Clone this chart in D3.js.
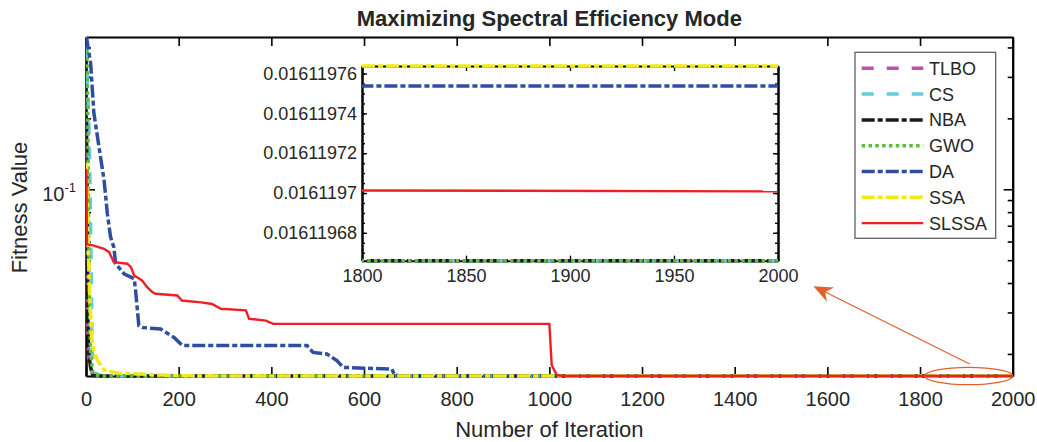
<!DOCTYPE html>
<html>
<head>
<meta charset="utf-8">
<script src="https://cdn.jsdelivr.net/npm/d3@7"></script>
<style>
    body { margin: 0; background: #fff; }
    text { font-family: "Liberation Sans", Arial, Helvetica, sans-serif; fill: #262626; }
    .axis path, .axis line { stroke: #000; }
</style>
</head>
<body>
<div id="chart"></div>
<script>
// ---- data (best fitness per iteration) ----
const seriesNames = ["TLBO", "CS", "NBA", "GWO", "DA", "SSA", "SLSSA"];

const iterTLBO = [1, 2, 3, 6, 15, 40, 60, 2000];
const fitTLBO  = [0.15, 0.06, 0.03, 0.0175, 0.0163, 0.01612, 0.016119666, 0.016119666];

const iterCS = [1, 4, 6, 8, 10, 12, 13, 15, 20, 30, 60, 2000];
const fitCS  = [0.40, 0.25, 0.20, 0.13, 0.07, 0.035, 0.022, 0.0178, 0.0166, 0.01614, 0.016119666, 0.016119666];

const iterNBA = [1, 2, 3, 4, 6, 10, 15, 30, 60, 2000];
const fitNBA  = [0.20, 0.12, 0.06, 0.03, 0.02, 0.0175, 0.01617, 0.01612, 0.016119666, 0.016119666];

const iterGWO = [1, 2, 3, 4, 5, 6, 8, 10, 15, 30, 60, 2000];
const fitGWO  = [0.443, 0.38, 0.28, 0.20, 0.12, 0.06, 0.03, 0.02, 0.0165, 0.01613, 0.016119666, 0.016119666];

const iterDA = [1, 10, 17, 28, 39, 46, 53, 60, 64, 82, 104, 107, 114, 122, 161, 190, 208, 477, 490, 520, 542, 555, 660, 666, 680, 2000];
const fitDA  = [0.443, 0.3427, 0.2106, 0.1514, 0.1092, 0.0790, 0.0627, 0.0568, 0.0483, 0.0438, 0.0417, 0.0372, 0.0264, 0.0259,
                0.0255, 0.0235, 0.0217, 0.0217, 0.0203, 0.0200, 0.0187, 0.01753, 0.01726, 0.01625, 0.0161197537, 0.0161197537];

const iterSSA = [1, 3, 5, 8, 12, 17, 24, 39, 67, 117, 200, 300, 2000];
const fitSSA  = [0.13, 0.08, 0.055, 0.035, 0.024, 0.0205, 0.0189, 0.0171, 0.0166, 0.01643, 0.01615, 0.0161197638, 0.0161197638];

const iterSLSSA = [1, 2, 15, 39, 50, 60, 89, 97, 104, 121, 132, 143, 150, 197, 207, 248, 272, 291, 345, 352, 388, 404,
                   1000, 1005, 1016, 1030, 1800, 2000];
const fitSLSSA  = [0.1217, 0.0583, 0.0578, 0.0559, 0.0541, 0.0490, 0.0483, 0.0467, 0.0431, 0.0410, 0.0384, 0.0366, 0.0360,
                   0.0354, 0.0337, 0.0331, 0.0326, 0.0311, 0.0306, 0.0282, 0.0277, 0.02683,
                   0.02683, 0.01796, 0.01627, 0.016119702, 0.0161197013, 0.0161197008];

// ticks
const xTicks = [0, 200, 400, 600, 800, 1000, 1200, 1400, 1600, 1800, 2000];
const yMajorTicks = [0.1];
const yMinorTicks = [0.02, 0.03, 0.04, 0.05, 0.06, 0.07, 0.08, 0.09, 0.2, 0.3, 0.4];
const insetXTicks = [1800, 1850, 1900, 1950, 2000];
const insetYTicks = [0.01611968, 0.0161197, 0.01611972, 0.01611974, 0.01611976];

// ---- styles ----
const colors = {TLBO: "#c04fa8", CS: "#62cddc", NBA: "#1a1a1a", GWO: "#5cbf3c", DA: "#2e4e9f", SSA: "#f2e81a", SLSSA: "#ee2024"};
const dashes = {TLBO: "12,13", CS: "12,13", NBA: "13,3,5,3", GWO: "3.5,3.3", DA: "13,3,5,3", SSA: "13,3,5,3", SLSSA: null};
const widths = {TLBO: 3.5, CS: 3.5, NBA: 3.5, GWO: 3.5, DA: 3.5, SSA: 3.5, SLSSA: 2.4};
const annotColor = "#e4602a";

const rawIters = [iterTLBO, iterCS, iterNBA, iterGWO, iterDA, iterSSA, iterSLSSA];
const rawFits = [fitTLBO, fitCS, fitNBA, fitGWO, fitDA, fitSSA, fitSLSSA];
const series = seriesNames.map((name, i) => ({
    name: name,
    points: rawIters[i].map((it, j) => ({it: it, v: rawFits[i][j]}))
}));

const width = 1037, height = 442;
const plot = {left: 86, right: 1012.7, top: 37, bottom: 376};
const inset = {left: 362, right: 778, top: 66, bottom: 260.7};

const svg = d3.select("#chart").append("svg")
    .attr("width", width)
    .attr("height", height);

const allValues = series.flatMap(s => s.points.map(p => p.v));

const x = d3.scaleLinear().domain([0, 2000]).range([plot.left, plot.right]);
const y = d3.scaleLog().domain(d3.extent(allValues)).range([plot.bottom, plot.top]);

// clip regions
const defs = svg.append("defs");
defs.append("clipPath").attr("id", "clipMain").append("rect")
    .attr("x", plot.left).attr("y", plot.top - 4)
    .attr("width", plot.right - plot.left).attr("height", plot.bottom - plot.top + 8);
defs.append("clipPath").attr("id", "clipInset").append("rect")
    .attr("x", inset.left).attr("y", inset.top - 4)
    .attr("width", inset.right - inset.left).attr("height", inset.bottom - inset.top + 8);

// ---- main axes ----
svg.append("g").attr("class", "axis")
    .attr("transform", `translate(0,${plot.bottom})`)
    .call(d3.axisBottom(x).tickValues(xTicks).tickFormat(d3.format("d"))
        .tickSizeInner(-9).tickSizeOuter(0).tickPadding(16))
    .call(g => g.selectAll("text").attr("font-size", 20).attr("font-family", null));
svg.append("g").attr("class", "axis")
    .attr("transform", `translate(0,${plot.top})`)
    .call(d3.axisTop(x).tickValues(xTicks).tickSizeInner(-9).tickSizeOuter(0).tickFormat(""));

function yAxes(axisFn, xpos, labels) {
    svg.append("g").attr("class", "axis")
        .attr("transform", `translate(${xpos},0)`)
        .call(axisFn(y).tickValues(yMinorTicks).tickSizeInner(-5).tickSizeOuter(0).tickFormat(""));
    const g = svg.append("g").attr("class", "axis")
        .attr("transform", `translate(${xpos},0)`)
        .call(axisFn(y).tickValues(yMajorTicks).tickSizeInner(-9).tickSizeOuter(0).tickPadding(10).tickFormat(""));
    if (labels) {
        g.selectAll(".tick text")
            .attr("font-family", null)
            .attr("dy", "0.55em")
            .attr("font-size", 20)
            .each(function() {
                const t = d3.select(this);
                t.append("tspan").text("10");
                t.append("tspan").attr("dy", -9).attr("font-size", 13).text("-1");
            });
    }
}
yAxes(d3.axisLeft, plot.left, true);
yAxes(d3.axisRight, plot.right, false);
svg.selectAll(".axis path.domain").attr("stroke-width", 2);
svg.selectAll(".axis line").attr("stroke-width", 1.6);

// ---- main lines ----
const line = d3.line().x(d => x(d.it)).y(d => y(d.v));
svg.append("g").attr("clip-path", "url(#clipMain)")
    .selectAll("path")
    .data(series)
    .enter().append("path")
    .attr("d", d => line(d.points))
    .attr("fill", "none")
    .style("stroke", d => colors[d.name])
    .style("stroke-width", d => widths[d.name])
    .style("stroke-dasharray", d => dashes[d.name]);

// ---- zoom annotation (ellipse + arrow) ----
svg.append("ellipse")
    .attr("cx", x(1905)).attr("cy", y.range()[0])
    .attr("rx", x(2000) - x(1905)).attr("ry", 8.7)
    .attr("fill", "none")
    .attr("stroke", annotColor)
    .attr("stroke-width", 1.3);

const tail = [x(1907), y(0.01813)], tip = [x(1570), y(0.0388)];
const ang = Math.atan2(tip[1] - tail[1], tip[0] - tail[0]);
svg.append("line")
    .attr("x1", tail[0]).attr("y1", tail[1])
    .attr("x2", tip[0] - 12 * Math.cos(ang))
    .attr("y2", tip[1] - 12 * Math.sin(ang))
    .attr("stroke", annotColor)
    .attr("stroke-width", 1.3);
svg.append("path")
    .attr("d", "M0,0 L-19,-8 L-13,0 L-19,8 Z")
    .attr("transform", `translate(${tip[0]},${tip[1]}) rotate(${ang * 180 / Math.PI})`)
    .attr("fill", annotColor);

// ---- inset: last 200 iterations ----
// keep only the stretch that reaches the window, long off-screen paths break the dashing
const byIter = d3.bisector(p => p.it).right;
const insetPts = series.map(s => ({
    name: s.name,
    points: s.points.slice(Math.max(0, byIter(s.points, 1800) - 1))
}));
const insetVals = insetPts.flatMap(s => s.points.filter(p => p.it >= 1800).map(p => p.v));
const xIn = d3.scaleLinear().domain([1800, 2000]).range([inset.left, inset.right]);
const yIn = d3.scaleLinear().domain(d3.extent(insetVals)).range([inset.bottom, inset.top]);

svg.append("rect")
    .attr("x", inset.left).attr("y", inset.top)
    .attr("width", inset.right - inset.left).attr("height", inset.bottom - inset.top)
    .attr("fill", "#fff");

const fmtIn = d => String(parseFloat(d.toFixed(8)));
svg.append("g").attr("class", "axis inset")
    .attr("transform", `translate(0,${inset.bottom})`)
    .call(d3.axisBottom(xIn).tickValues(insetXTicks).tickFormat(d3.format("d"))
        .tickSizeInner(-5).tickSizeOuter(0).tickPadding(9))
    .call(g => g.selectAll("text").attr("font-size", 18).attr("font-family", null));
svg.append("g").attr("class", "axis inset")
    .attr("transform", `translate(0,${inset.top})`)
    .call(d3.axisTop(xIn).tickValues(insetXTicks).tickSizeInner(-5).tickSizeOuter(0).tickFormat(""));
svg.append("g").attr("class", "axis inset")
    .attr("transform", `translate(${inset.left},0)`)
    .call(d3.axisLeft(yIn).tickValues(yIn.ticks(20)).tickSizeInner(-3).tickSizeOuter(0).tickFormat(""));
svg.append("g").attr("class", "axis inset")
    .attr("transform", `translate(${inset.left},0)`)
    .call(d3.axisLeft(yIn).tickValues(insetYTicks).tickSizeInner(-5).tickSizeOuter(0).tickPadding(5).tickFormat(fmtIn))
    .call(g => g.selectAll("text").attr("font-size", 18).attr("font-family", null));
svg.append("g").attr("class", "axis inset")
    .attr("transform", `translate(${inset.right},0)`)
    .call(d3.axisRight(yIn).tickValues(yIn.ticks(20)).tickSizeInner(-3).tickSizeOuter(0).tickFormat(""));
svg.append("g").attr("class", "axis inset")
    .attr("transform", `translate(${inset.right},0)`)
    .call(d3.axisRight(yIn).tickValues(insetYTicks).tickSizeInner(-5).tickSizeOuter(0).tickFormat(""));
svg.selectAll(".inset path.domain").attr("stroke-width", 2);
svg.selectAll(".inset line").attr("stroke-width", 1.4);

const lineIn = d3.line().x(d => xIn(d.it)).y(d => yIn(d.v));
svg.append("g").attr("clip-path", "url(#clipInset)")
    .selectAll("path")
    .data(insetPts)
    .enter().append("path")
    .attr("d", d => lineIn(d.points))
    .attr("fill", "none")
    .style("stroke", d => colors[d.name])
    .style("stroke-width", d => widths[d.name])
    .style("stroke-dasharray", d => dashes[d.name]);

// ---- legend ----
const legend = svg.append("g").attr("transform", "translate(855,52.3)");
legend.append("rect")
    .attr("width", 140.7).attr("height", 186)
    .attr("fill", "#fff")
    .attr("stroke", "#555")
    .attr("stroke-width", 1.2);
const items = legend.selectAll("g.item")
    .data(seriesNames)
    .enter().append("g")
    .attr("class", "item")
    .attr("transform", (d, i) => `translate(0,${16 + i * 25.8})`);
items.append("line")
    .attr("x1", 6.7).attr("x2", 68.3)
    .style("stroke", d => colors[d])
    .style("stroke-width", d => widths[d])
    .style("stroke-dasharray", d => dashes[d]);
items.append("text")
    .attr("x", 74).attr("dy", "0.36em")
    .attr("font-size", 18)
    .text(d => d);

// ---- titles ----
svg.append("text")
    .attr("x", (plot.left + plot.right) / 2).attr("y", 26)
    .attr("text-anchor", "middle")
    .attr("font-size", 22).attr("font-weight", "bold")
    .text("Maximizing Spectral Efficiency Mode");
svg.append("text")
    .attr("x", (plot.left + plot.right) / 2).attr("y", 437)
    .attr("text-anchor", "middle")
    .attr("font-size", 22)
    .text("Number of Iteration");
svg.append("text")
    .attr("transform", `translate(27,${(plot.top + plot.bottom) / 2 + 1}) rotate(-90)`)
    .attr("text-anchor", "middle")
    .attr("font-size", 22)
    .text("Fitness Value");
</script>
</body>
</html>
